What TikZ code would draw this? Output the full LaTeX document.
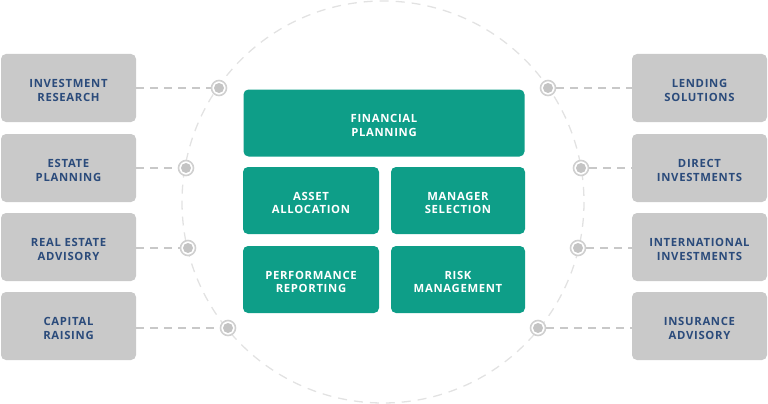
\documentclass[tikz,border=0pt]{standalone}
\usepackage{fontspec}
\setmainfont{Open Sans}[LetterSpace=6]
\definecolor{tealbox}{HTML}{0E9E88}
\definecolor{greybox}{HTML}{C9C9C9}
\definecolor{navytext}{HTML}{2B4B7B}
\definecolor{lineg}{HTML}{C8C8C8}
\definecolor{circg}{HTML}{E2E2E2}
\definecolor{dotfill}{HTML}{C4C4C4}
\tikzset{
  sidebox/.style={fill=greybox, rounded corners=5pt, minimum width=135pt, minimum height=68pt,
    inner sep=0pt, text=navytext, align=center, text height=26pt, text depth=0pt,
    font=\fontsize{11.3}{13.5}\selectfont\bfseries},
  corebox/.style={fill=tealbox, rounded corners=5pt, minimum height=67pt,
    inner sep=0pt, text=white, align=center, text height=26pt, text depth=0pt,
    font=\fontsize{11.3}{13.5}\selectfont\bfseries},
  link/.style={draw=lineg, line width=1.8pt, dash pattern=on 8pt off 6pt},
  dot/.style={circle, draw=dotfill!80, line width=1.6pt, fill=white, minimum size=15pt, inner sep=0pt,
    path picture={\fill[dotfill] (path picture bounding box.center) circle (5pt);}}
}
\begin{document}
\begin{tikzpicture}[x=1pt,y=-1pt]
\useasboundingbox (0,0) rectangle (768,404);
\draw[circg, line width=1.3pt, dash pattern=on 9pt off 7pt] (383,202) circle (201);
% core
\node[corebox, minimum width=281pt] (fp) at (384,123) {FINANCIAL\\PLANNING};
\node[corebox, minimum width=136pt] (aa) at (311,200.5) {ASSET\\ALLOCATION};
\node[corebox, minimum width=134pt] (ms) at (458,200.5) {MANAGER\\SELECTION};
\node[corebox, minimum width=136pt] (pr) at (311,279.5) {PERFORMANCE\\REPORTING};
\node[corebox, minimum width=134pt] (rm) at (458,279.5) {RISK\\MANAGEMENT};
% left boxes
\node[sidebox] (l1) at (68.5,88) {INVESTMENT\\RESEARCH};
\node[sidebox] (l2) at (68.5,168) {ESTATE\\PLANNING};
\node[sidebox] (l3) at (68.5,247) {REAL ESTATE\\ADVISORY};
\node[sidebox] (l4) at (68.5,326) {CAPITAL\\RAISING};
% right boxes
\node[sidebox] (r1) at (699.5,88) {LENDING\\SOLUTIONS};
\node[sidebox] (r2) at (699.5,168) {DIRECT\\INVESTMENTS};
\node[sidebox] (r3) at (699.5,247) {INTERNATIONAL\\INVESTMENTS};
\node[sidebox] (r4) at (699.5,326) {INSURANCE\\ADVISORY};
% dots
\node[dot] (dl1) at (219,88) {};
\node[dot] (dl2) at (186,168) {};
\node[dot] (dl3) at (188,248) {};
\node[dot] (dl4) at (228,328) {};
\node[dot] (dr1) at (548,88) {};
\node[dot] (dr2) at (581,168) {};
\node[dot] (dr3) at (578,248) {};
\node[dot] (dr4) at (538,328) {};
% links
\draw[link] (l1.east |- dl1) -- (dl1.west);
\draw[link] (l2.east |- dl2) -- (dl2.west);
\draw[link] (l3.east |- dl3) -- (dl3.west);
\draw[link] (l4.east |- dl4) -- (dl4.west);
\draw[link] (dr1.east) -- (r1.west |- dr1);
\draw[link] (dr2.east) -- (r2.west |- dr2);
\draw[link] (dr3.east) -- (r3.west |- dr3);
\draw[link] (dr4.east) -- (r4.west |- dr4);
\end{tikzpicture}
\end{document}
